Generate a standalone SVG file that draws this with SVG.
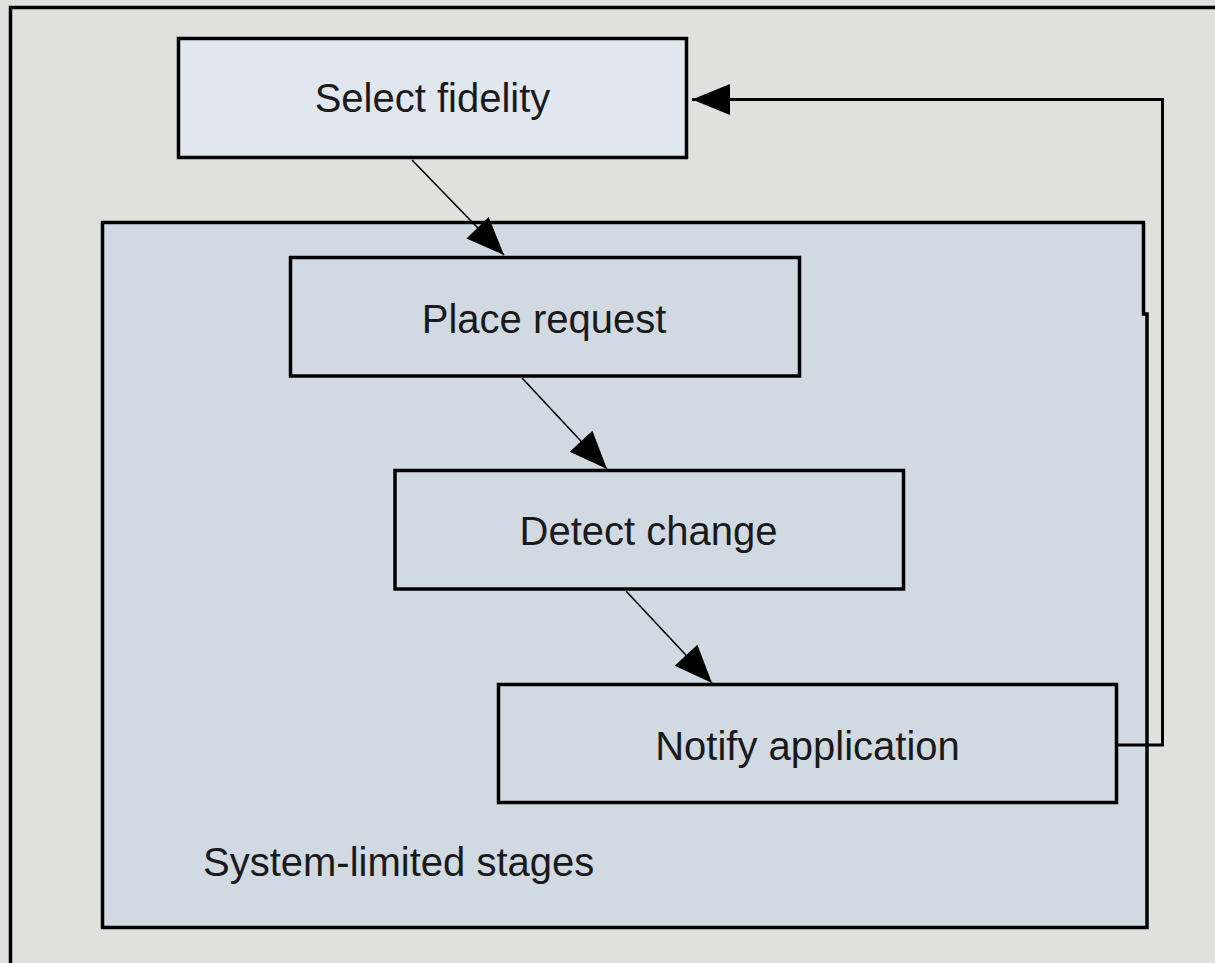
<svg xmlns="http://www.w3.org/2000/svg" width="1215" height="963" viewBox="0 0 1215 963">
<style>
.box{stroke:#000;stroke-width:3.5}
.lbl{font-family:"Liberation Sans",Arial,sans-serif;font-size:40px;fill:#1a1a1a;text-anchor:middle}
.con{fill:none;stroke:#000;stroke-width:1.6}
.fb{fill:none;stroke:#000;stroke-width:3}
</style>
<defs>
<marker id="ah" viewBox="-40 -17 42 34" markerWidth="42" markerHeight="34" refX="0" refY="0" orient="auto" markerUnits="userSpaceOnUse">
<path d="M0,0 L-38,-15.5 L-38,15.5 Z" fill="#000"/>
</marker>
</defs>
<rect width="1215" height="963" fill="#e0e1df"/>
<path d="M10.5,963 V7.5 H1215" fill="none" stroke="#000" stroke-width="3.5"/>
<g id="container">
<path d="M102.5,222.5 H1143.5 V314 H1147 V927.5 H102.5 Z" fill="#d1d9e2" stroke="#000" stroke-width="3.5"/>
<text x="203" y="876" font-family="Liberation Sans,Arial,sans-serif" font-size="40" fill="#1a1a1a">System-limited stages</text>
</g>
<g id="select-fidelity">
<rect class="box" x="178.5" y="38.5" width="508" height="119" fill="#e1e7ef"/>
<text class="lbl" x="432.5" y="112">Select fidelity</text>
</g>
<g id="place-request">
<rect class="box" x="290.5" y="257.5" width="509" height="118.5" fill="#d1d9e2"/>
<text class="lbl" x="544" y="333">Place request</text>
</g>
<g id="detect-change">
<rect class="box" x="395" y="470.5" width="508.5" height="118.5" fill="#d1d9e2"/>
<text class="lbl" x="648.5" y="545">Detect change</text>
</g>
<g id="notify-application">
<rect class="box" x="498.5" y="684.5" width="618" height="118" fill="#d1d9e2"/>
<text class="lbl" x="807.5" y="760">Notify application</text>
</g>
<g id="connectors">
<path class="con" d="M412,160 L504,255" marker-end="url(#ah)"/>
<path class="con" d="M522,378 L607,469" marker-end="url(#ah)"/>
<path class="con" d="M626,591 L712,683" marker-end="url(#ah)"/>
<path class="fb" d="M1117,745 H1162.5 V99.5 H692" marker-end="url(#ah)"/>
</g>
</svg>
